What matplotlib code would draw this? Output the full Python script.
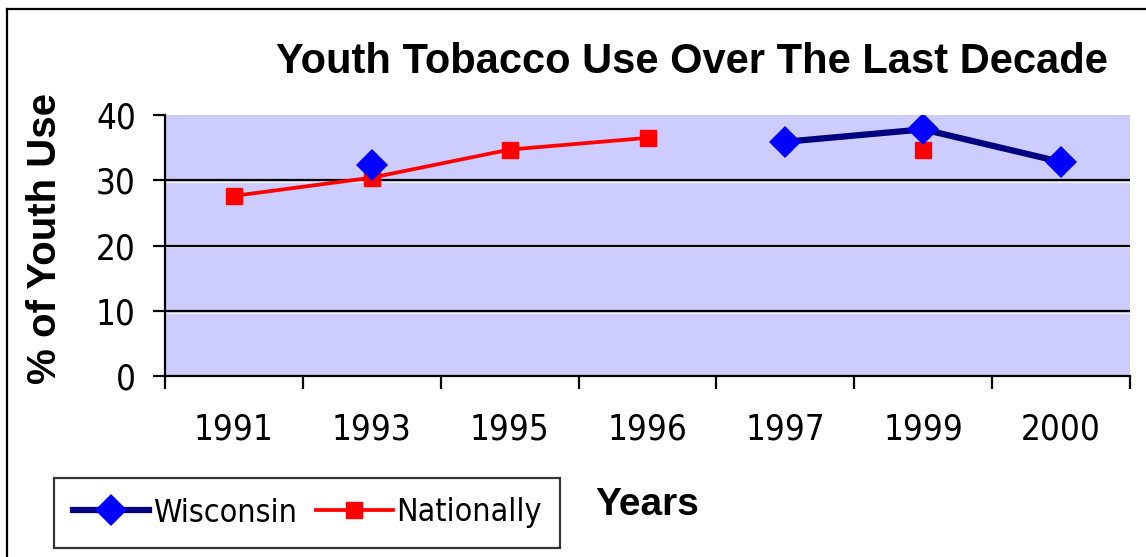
import numpy as np
import matplotlib
matplotlib.use("Agg")
import matplotlib.pyplot as plt
from matplotlib.lines import Line2D

# Survey years (categories) and percentage of youth using tobacco
years = ["1991", "1993", "1995", "1996", "1997", "1999", "2000"]
wisconsin = [np.nan, 32.3, np.nan, np.nan, 35.9, 37.8, 32.8]
nationally = [27.6, 30.4, 34.7, 36.5, np.nan, 34.7, np.nan]
y_ticks = [0, 10, 20, 30, 40]

NARROW = dict(family=["DejaVu Sans"], stretch="condensed")
BOLD = ["Liberation Sans", "DejaVu Sans"]

W, H, DPI = 1146, 557, 100
fig = plt.figure(figsize=(W / DPI, H / DPI), dpi=DPI)
fig.patch.set_facecolor("white")

# Plot area in pixel coordinates converted to figure fractions
left, right, top, bottom = 165, 1130, 115, 376
ax = fig.add_axes([left / W, 1 - bottom / H, (right - left) / W, (bottom - top) / H])
ax.set_facecolor("#CCCCFF")

x = np.arange(len(years))
ax.plot(x, nationally, color="#FF0000", lw=2.7, marker="s", ms=11.5,
        mec="#FF0000", mfc="#FF0000", label="Nationally", zorder=3)
ax.plot(x, wisconsin, color="#000080", lw=4.5, marker="D", ms=16.5,
        mec="#0000FF", mfc="#0000FF", mew=0, label="Wisconsin", zorder=4)

ax.set_xlim(-0.5, len(years) - 0.5)
ax.set_ylim(0, 40)

# Horizontal gridlines with a faint light edge beneath
for v in y_ticks[1:-1]:
    ax.axhline(v, color="black", lw=1.6, zorder=1.2)
    ax.axhline(v - 0.28, color="white", lw=0.9, alpha=0.8, zorder=1.1)

for s in ["top", "right"]:
    ax.spines[s].set_visible(False)
for s in ["left", "bottom"]:
    ax.spines[s].set_color("black")
    ax.spines[s].set_linewidth(1.6)

ax.set_yticks(y_ticks)
ax.set_yticklabels([str(v) for v in y_ticks], fontsize=25, **NARROW)
ax.tick_params(axis="y", direction="out", length=9, width=1.6, pad=12)

# Category labels centred, tick marks between categories
ax.set_xticks(x)
ax.set_xticklabels(years, fontsize=25, **NARROW)
ax.tick_params(axis="x", which="major", length=0, pad=26)
ax.set_xticks(np.arange(-0.5, len(years)), minor=True)
ax.tick_params(axis="x", which="minor", direction="out", length=9, width=1.6)

fig.text(692 / W, 1 - 62 / H, "Youth Tobacco Use Over The Last Decade",
         ha="center", va="center", fontsize=30, fontweight="bold", family=BOLD)
fig.text(45 / W, 1 - 238 / H, "% of Youth Use", rotation=90,
         ha="center", va="center", fontsize=29, fontweight="bold", family=BOLD)
fig.text(647 / W, 1 - 505 / H, "Years", ha="center", va="center",
         fontsize=28, fontweight="bold", family=BOLD)

handles, labels = ax.get_legend_handles_labels()
leg = fig.legend(handles[::-1], labels[::-1], loc="center",
                 bbox_to_anchor=(307 / W, 1 - 513 / H), ncol=2,
                 prop=dict(size=23, **NARROW), frameon=True,
                 fancybox=False, edgecolor="black", handlelength=2.4,
                 handletextpad=0.1, columnspacing=0.6, borderpad=0.6,
                 borderaxespad=0)
leg.get_frame().set_linewidth(1.6)

# Outer chart frame (left and top edges)
fig.add_artist(Line2D([7 / W, 7 / W], [0, 1 - 9 / H], color="black", lw=1.6,
                      transform=fig.transFigure))
fig.add_artist(Line2D([7 / W, 1], [1 - 9 / H, 1 - 9 / H], color="black", lw=1.6,
                      transform=fig.transFigure))

fig.savefig("out.png", dpi=DPI)
